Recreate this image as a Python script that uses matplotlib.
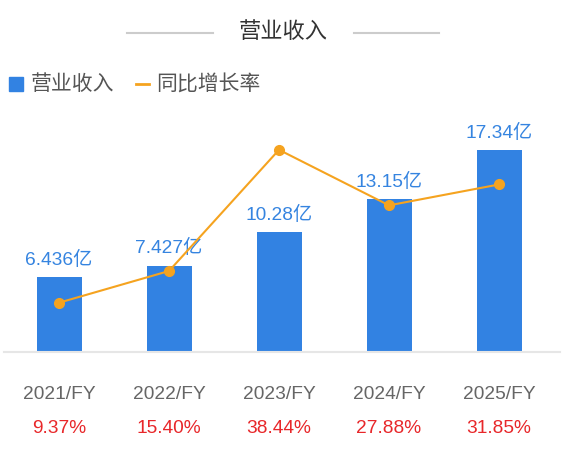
import matplotlib
matplotlib.use("Agg")
import matplotlib.pyplot as plt
from matplotlib.lines import Line2D
from matplotlib.patches import Rectangle

years = ["2021/FY", "2022/FY", "2023/FY", "2024/FY", "2025/FY"]
revenue = [6.436, 7.427, 10.28, 13.15, 17.34]
revenue_labels = ["6.436亿", "7.427亿", "10.28亿", "13.15亿", "17.34亿"]
growth = [9.37, 15.40, 38.44, 27.88, 31.85]
growth_labels = ["9.37%", "15.40%", "38.44%", "27.88%", "31.85%"]

BLUE = "#3282e2"
ORANGE = "#f5a31f"
RED = "#e8272a"
CJK = ["Noto Sans CJK SC", "DejaVu Sans"]
LAT = ["Liberation Sans", "Noto Sans CJK SC"]

W, H = 565, 468
fig = plt.figure(figsize=(W / 100, H / 100), dpi=100)

# axes: x from 4 to 554 px, baseline at y=352, top at y=119
ax = fig.add_axes([4 / W, (H - 352) / H, 550 / W, 233 / H])
x = list(range(len(years)))
ax.bar(x, revenue, width=45 / 110, color=BLUE, zorder=2)
ax.set_xlim(-0.5, 4.5)
ax.set_ylim(0, 233 / 11.64)
for s in ax.spines.values():
    s.set_visible(False)
ax.set_xticks([])
ax.set_yticks([])

for i, lab in enumerate(revenue_labels):
    ax.annotate(lab, (i, revenue[i]), xytext=(0, 12.5), textcoords="offset points",
                ha="center", va="center", color="#3584e0", fontsize=13.8, family=LAT)
    ax.annotate(years[i], (i, 0), xycoords=("data", "axes fraction"),
                xytext=(0, -30.5), textcoords="offset points",
                ha="center", va="center", color="#666666", fontsize=13.8, family=LAT)
    ax.annotate(growth_labels[i], (i, 0), xycoords=("data", "axes fraction"),
                xytext=(0, -55.3), textcoords="offset points",
                ha="center", va="center", color=RED, fontsize=13.8, family=LAT)

ax2 = ax.twinx()
ax2.plot(x, growth, color=ORANGE, lw=1.5, marker="o", ms=7, zorder=3)
ax2.set_ylim(0, 233 / 5.26)
ax2.set_yticks([])
for s in ax2.spines.values():
    s.set_visible(False)

# baseline
fig.add_artist(Line2D([4 / W, 560 / W], [(H - 352) / H] * 2, color="#e6e6e6", lw=1.5))

# title with side rules
fig.text(283 / W, 1 - 31 / H, "营业收入", ha="center", va="center",
         fontsize=16, color="#333333", family=CJK)
fig.add_artist(Line2D([127 / W, 213 / W], [1 - 33 / H] * 2, color="#cccccc", lw=1.5))
fig.add_artist(Line2D([354 / W, 439 / W], [1 - 33 / H] * 2, color="#cccccc", lw=1.5))

# legend
fig.add_artist(Rectangle((9 / W, 1 - 91 / H), 13.5 / W, 14 / H, color=BLUE,
                         transform=fig.transFigure))
fig.text(31 / W, 1 - 84 / H, "营业收入", ha="left", va="center",
         fontsize=15, color="#555555", family=CJK)
fig.add_artist(Line2D([136 / W, 149 / W], [1 - 84 / H] * 2, color=ORANGE, lw=2))
fig.text(156 / W, 1 - 84 / H, "同比增长率", ha="left", va="center",
         fontsize=15, color="#555555", family=CJK)

fig.savefig("out.png", dpi=100)
